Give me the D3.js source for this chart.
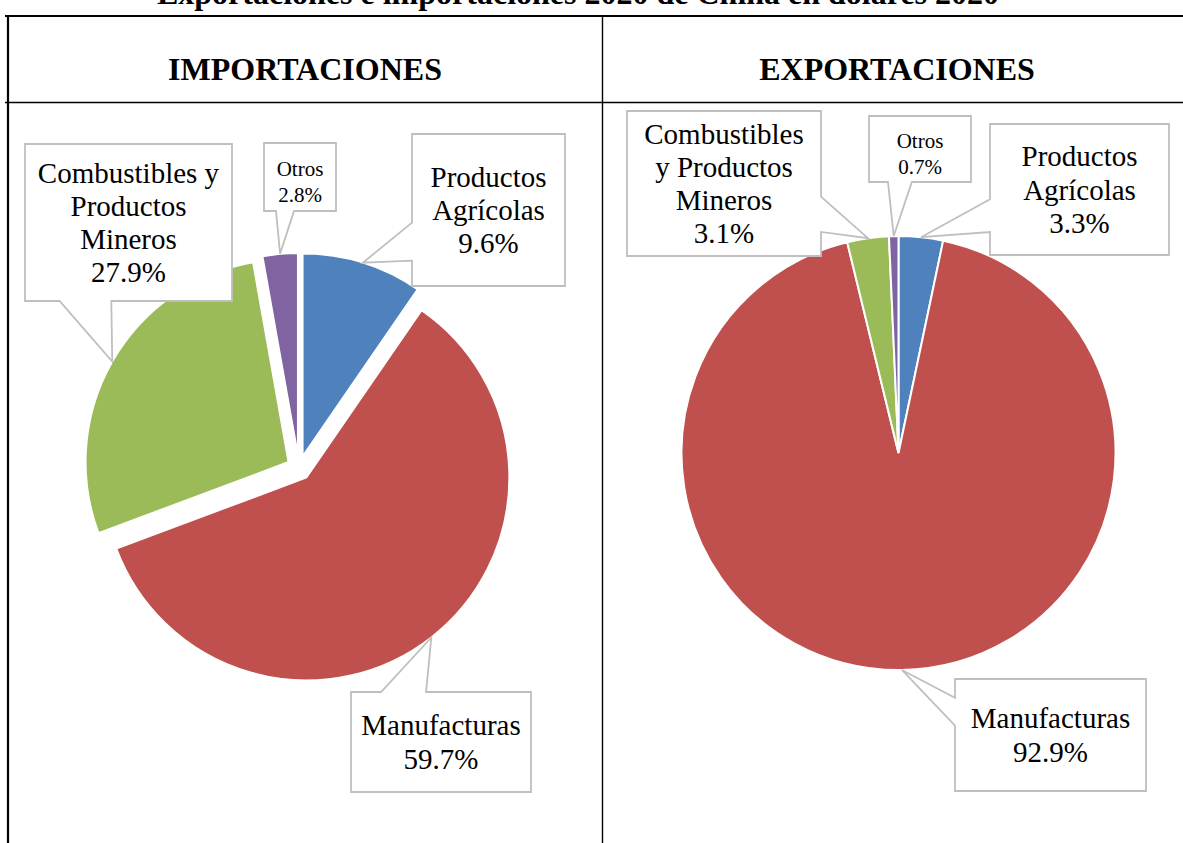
<!DOCTYPE html>
<html>
<head>
<meta charset="utf-8">
<title>Exportaciones e importaciones 2020 de China</title>
<script src="https://cdn.jsdelivr.net/npm/d3@7"></script>
<style>
  body { margin: 0; background: #fff; }
  svg { display: block; font-family: "Liberation Serif", "Times New Roman", serif; }
</style>
</head>
<body>
<div id="chart"></div>
<script>
// data
var chartTitle = "Exportaciones e importaciones 2020 de China en dólares 2020";
var panelTitles = ["IMPORTACIONES", "EXPORTACIONES"];
var categories = ["Productos Agrícolas", "Manufacturas", "Combustibles y Productos Mineros", "Otros"];
var importValues = [9.6, 59.7, 27.9, 2.8];
var exportValues = [3.3, 92.9, 3.1, 0.7];
var colors = ["#4f81bd", "#c0504d", "#9bbb59", "#8064a2"];
// category names broken the way each chart shows them
var importLines = [["Productos", "Agrícolas"], ["Manufacturas"], ["Combustibles y", "Productos", "Mineros"], ["Otros"]];
var exportLines = [["Productos", "Agrícolas"], ["Manufacturas"], ["Combustibles", "y Productos", "Mineros"], ["Otros"]];

// callout boxes (layout only): side the pointer leaves from, and where on that side
var importBoxes = [
  {x: 412, y: 134, w: 153, h: 152, side: "left",   a: 0.583, b: 0.833},
  {x: 351, y: 692, w: 180, h: 100, side: "top",    a: 0.167, b: 0.417},
  {x: 25,  y: 144, w: 207, h: 157, side: "bottom", a: 0.167, b: 0.417},
  {x: 264, y: 143, w: 72,  h: 68,  side: "bottom", a: 0.167, b: 0.417, small: true}
];
var exportBoxes = [
  {x: 990, y: 124, w: 179, h: 131, side: "left",   a: 0.575, b: 0.825},
  {x: 955, y: 679, w: 191, h: 112, side: "left",   a: 0.167, b: 0.417},
  {x: 627, y: 111, w: 194, h: 145, side: "right",  a: 0.59,  b: 0.834},
  {x: 869, y: 116, w: 102, h: 66,  side: "bottom", a: 0.186, b: 0.42, small: true}
];

var W = 1183, H = 843;
var svg = d3.select("#chart").append("svg").attr("width", W).attr("height", H);

// title, mostly above the visible area
svg.append("text")
  .attr("x", 578).attr("y", 4)
  .attr("text-anchor", "middle")
  .attr("font-size", 32).attr("font-weight", "bold")
  .text(chartTitle);

// table grid
var grid = svg.append("g").attr("stroke", "#000");
grid.append("line").attr("x1", 5).attr("x2", W).attr("y1", 16).attr("y2", 16).attr("stroke-width", 2.2);
grid.append("line").attr("x1", 8).attr("x2", 8).attr("y1", 15).attr("y2", H).attr("stroke-width", 2.2);
grid.append("line").attr("x1", 602.5).attr("x2", 602.5).attr("y1", 16).attr("y2", H).attr("stroke-width", 1.4);
grid.append("line").attr("x1", 5).attr("x2", W).attr("y1", 102.5).attr("y2", 102.5).attr("stroke-width", 1.4);

svg.selectAll(".panel-title")
  .data(panelTitles)
  .join("text")
  .attr("class", "panel-title")
  .attr("x", function(d, i) { return i === 0 ? 305 : 897; })
  .attr("y", 80)
  .attr("text-anchor", "middle")
  .attr("font-size", 32).attr("font-weight", "bold")
  .text(function(d) { return d; });

var pct = d3.format(".1f");

function calloutPath(b, tip) {
  var x0 = b.x, y0 = b.y, x1 = b.x + b.w, y1 = b.y + b.h;
  var p = d3.path();
  p.moveTo(x0, y0);
  if (b.side === "top") {
    p.lineTo(x0 + b.a * b.w, y0); p.lineTo(tip[0], tip[1]); p.lineTo(x0 + b.b * b.w, y0);
  }
  p.lineTo(x1, y0);
  if (b.side === "right") {
    p.lineTo(x1, y0 + b.a * b.h); p.lineTo(tip[0], tip[1]); p.lineTo(x1, y0 + b.b * b.h);
  }
  p.lineTo(x1, y1);
  if (b.side === "bottom") {
    p.lineTo(x0 + b.b * b.w, y1); p.lineTo(tip[0], tip[1]); p.lineTo(x0 + b.a * b.w, y1);
  }
  p.lineTo(x0, y1);
  if (b.side === "left") {
    p.lineTo(x0, y0 + b.b * b.h); p.lineTo(tip[0], tip[1]); p.lineTo(x0, y0 + b.a * b.h);
  }
  p.closePath();
  return p.toString();
}

function drawPie(values, lines, boxes, cx, cy, r, explode) {
  var g = svg.append("g");
  var arcs = d3.pie().sort(null).value(function(d) { return d; })(values);
  var arc = d3.arc().innerRadius(0).outerRadius(r);
  function shift(d) {
    var m = (d.startAngle + d.endAngle) / 2;
    return [cx + explode * Math.sin(m), cy - explode * Math.cos(m)];
  }

  g.selectAll("path.slice")
    .data(arcs)
    .join("path")
    .attr("class", "slice")
    .attr("transform", function(d) { var s = shift(d); return "translate(" + s[0] + "," + s[1] + ")"; })
    .attr("d", arc)
    .attr("fill", function(d, i) { return colors[i]; })
    .attr("stroke", "#fff")
    .attr("stroke-width", 2);

  var labels = g.selectAll("g.callout")
    .data(arcs)
    .join("g")
    .attr("class", "callout");

  labels.append("path")
    .attr("d", function(d, i) {
      var s = shift(d), m = (d.startAngle + d.endAngle) / 2;
      var tip = [s[0] + r * Math.sin(m), s[1] - r * Math.cos(m)];
      return calloutPath(boxes[i], tip);
    })
    .attr("fill", "#fff")
    .attr("stroke", "#bfbfbf")
    .attr("stroke-width", 1.8)
    .attr("stroke-linejoin", "miter");

  labels.each(function(d, i) {
    var b = boxes[i];
    var rows = lines[i].concat([pct(values[i]) + "%"]);
    var fs = b.small ? 21 : 29;
    var lh = b.small ? 26 : 33.3;
    var mid = b.y + b.h / 2 + (b.small ? 12 : 10);
    d3.select(this).selectAll("text")
      .data(rows)
      .join("text")
      .attr("x", b.x + b.w / 2)
      .attr("y", function(t, k) { return mid + (k - (rows.length - 1) / 2) * lh; })
      .attr("text-anchor", "middle")
      .attr("font-size", fs)
      .attr("fill", "#000")
      .text(function(t) { return t; });
  });
}

drawPie(importValues, importLines, importBoxes, 299, 468, 203, 12);
drawPie(exportValues, exportLines, exportBoxes, 898.5, 453, 217, 0);
</script>
</body>
</html>
